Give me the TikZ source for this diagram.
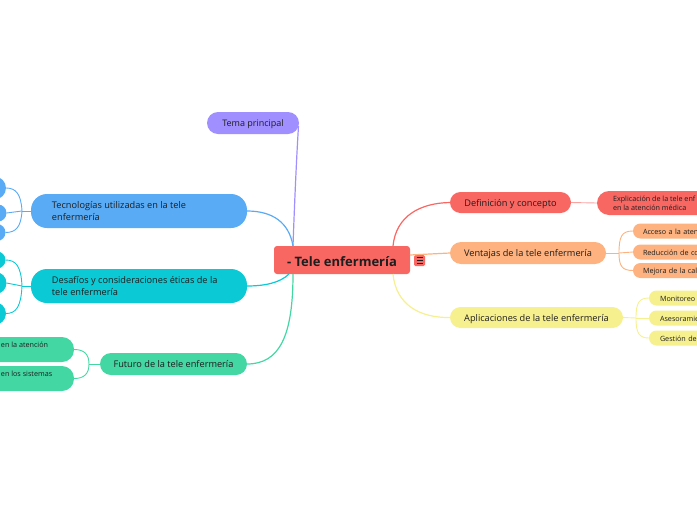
\documentclass[tikz,border=0pt]{standalone}
\usepackage{fontspec}
\setmainfont{Open Sans}
\definecolor{txtc}{HTML}{1E1E1E}
\definecolor{cred}{HTML}{F96763}
\definecolor{credl}{HTML}{F9A3A1}
\definecolor{corange}{HTML}{FDB27F}
\definecolor{cyellow}{HTML}{F7F08E}
\definecolor{cblue}{HTML}{5AABF5}
\definecolor{ccyan}{HTML}{0BCAD5}
\definecolor{cgreen}{HTML}{43D7A4}
\definecolor{cpur}{HTML}{9F8FFF}
\begin{document}
\begin{tikzpicture}[x=1pt,y=-1pt,
  every node/.style={inner sep=0pt, outer sep=0pt, text=txtc},
  bigf/.style={font=\fontsize{9.2}{12.3}\selectfont, text height=9, text depth=1.8},
  bigline/.style={font=\fontsize{9.2}{12.3}\selectfont, anchor=base west},
  smallf/.style={font=\fontsize{7.2}{9.5}\selectfont, text height=8, text depth=1.2},
  smallline/.style={font=\fontsize{7.2}{9.5}\selectfont, anchor=base west},
  mainline/.style={line width=1.2pt},
  subline/.style={line width=0.9pt},
]
\useasboundingbox (0,0) rectangle (697,520);
\clip (0,0) rectangle (697,520);

% central topic
\node[fill=cred, rounded corners=3, minimum width=136, minimum height=28,
      font=\fontsize{13}{15}\selectfont\bfseries, text height=12, text depth=0] (root) at (342,260) {- Tele enfermería};
\node[fill=cred, rounded corners=1.5, minimum size=11] (menu) at (419.5,260.5) {};
\foreach \dy in {-2.6,0,2.6}
  \draw[txtc, line width=0.9pt] ([xshift=-3pt,yshift=\dy pt]menu.center) -- ([xshift=3pt,yshift=\dy pt]menu.center);

% main branches
\node[fill=cpur, rounded corners=11, minimum width=92, minimum height=22,
      font=\fontsize{9}{11}\selectfont, text height=8, text depth=1.6] (tema) at (253,123) {Tema principal};
\node[fill=cblue, rounded corners=16, minimum width=216, minimum height=34] (tec) at (139,211) {};
\node[bigline] (tecA) at (52,208.4) {Tecnologías utilizadas en la tele};
\node[bigline] (tecB) at (52,220.7) {enfermería};
\node[fill=ccyan, rounded corners=16, minimum width=216, minimum height=34] (des) at (139,286) {};
\node[bigline] (desA) at (52,283.4) {Desafíos y consideraciones éticas de la};
\node[bigline] (desB) at (52,295.7) {tele enfermería};
\node[fill=cgreen, rounded corners=11, minimum width=147, minimum height=22, bigf] (fut) at (173.5,364) {Futuro de la tele enfermería};
\node[fill=cred, rounded corners=10.5, minimum width=121, minimum height=21, bigf] (def) at (510.5,202.5) {Definición y concepto};
\node[fill=corange, rounded corners=11, minimum width=156, minimum height=22, bigf] (ven) at (528,253) {Ventajas de la tele enfermería};
\node[fill=cyellow, rounded corners=10.5, minimum width=173, minimum height=21, bigf] (apl) at (536.5,317.5) {Aplicaciones de la tele enfermería};

% main connectors
\draw[cpur, mainline] (293,246) .. controls (295,190) and (297,150) .. (298.5,126);
\draw[cblue, mainline] (293,246) .. controls (289,222) and (272,211) .. (tec.east);
\draw[ccyan, mainline] (289,274) .. controls (280,283) and (264,286) .. (des.east);
\draw[cgreen, mainline] (293,274) .. controls (293,335) and (280,364) .. (fut.east);
\draw[cred, mainline] (393,246) .. controls (396,216) and (420,203) .. (def.west);
\draw[corange, mainline] (410,255) -- (ven.west);
\draw[cyellow, mainline] (393,274) .. controls (396,305) and (420,318) .. (apl.west);

% right children: Definición
\node[fill=cred, rounded corners=12, minimum width=160, minimum height=24, anchor=west] (exp) at (597,203) {};
\node[smallline] (expA) at (613,201.3) {Explicación de la tele enf};
\node[smallline] (expB) at (613,210.8) {en la atención médica};
\draw[credl, subline] (def.east) -- (exp.west);

% right children: Ventajas
\node[fill=corange, rounded corners=7.5, minimum width=100, minimum height=15, anchor=west, text width=90, inner xsep=10, align=left, smallf] (v1) at (633,231) {Acceso a la aten};
\node[fill=corange, rounded corners=7.5, minimum width=100, minimum height=15, anchor=west, text width=90, inner xsep=10, align=left, smallf] (v2) at (633,252) {Reducción de co};
\node[fill=corange, rounded corners=7.5, minimum width=100, minimum height=15, anchor=west, text width=90, inner xsep=10, align=left, smallf] (v3) at (633,270.5) {Mejora de la cal};
\coordinate (vj) at (619,253);
\draw[corange, subline] (ven.east) -- (vj);
\draw[corange, subline] (vj) .. controls (619,236) and (622,231) .. (v1.west);
\draw[corange, subline] (vj) -- (v2.west);
\draw[corange, subline] (vj) .. controls (619,266) and (622,270.5) .. (v3.west);

% right children: Aplicaciones
\node[fill=cyellow, rounded corners=7.5, minimum width=100, minimum height=15, anchor=west, text width=89, inner xsep=11, align=left, smallf] (a1) at (649,298) {Monitoreo};
\node[fill=cyellow, rounded corners=7.5, minimum width=100, minimum height=15, anchor=west, text width=89, inner xsep=11, align=left, smallf] (a2) at (649,318) {Asesoramie};
\node[fill=cyellow, rounded corners=7.5, minimum width=100, minimum height=15, anchor=west, text width=89, inner xsep=11, align=left, smallf] (a3) at (649,338) {Gestión de};
\coordinate (aj) at (636,318);
\draw[cyellow, subline] (apl.east) -- (aj);
\draw[cyellow, subline] (aj) .. controls (636,303) and (639,298) .. (a1.west);
\draw[cyellow, subline] (aj) -- (a2.west);
\draw[cyellow, subline] (aj) .. controls (636,333) and (639,338) .. (a3.west);

% left children: Tecnologías
\node[fill=cblue, rounded corners=11.5, minimum width=80, minimum height=23, anchor=east] (t1) at (6,188) {};
\node[fill=cblue, rounded corners=8.5, minimum width=80, minimum height=17, anchor=east] (t2) at (6.5,213) {};
\node[fill=cblue, rounded corners=8.5, minimum width=80, minimum height=17, anchor=east] (t3) at (5.5,232.5) {};
\coordinate (tj) at (22,211);
\draw[cblue, subline] (tec.west) -- (tj);
\draw[cblue, subline] (tj) .. controls (21,194) and (16,188) .. (t1.east);
\draw[cblue, subline] (tj) -- (t2.east);
\draw[cblue, subline] (tj) .. controls (21,227) and (16,232.5) .. (t3.east);

% left children: Desafíos
\node[fill=ccyan, rounded corners=8.5, minimum width=80, minimum height=17, anchor=east] (d1) at (5.5,260) {};
\node[fill=ccyan, rounded corners=11, minimum width=80, minimum height=22, anchor=east] (d2) at (6.5,283) {};
\node[fill=ccyan, rounded corners=11.5, minimum width=80, minimum height=23, anchor=east] (d3) at (6,313.5) {};
\coordinate (dj) at (22,286);
\draw[ccyan, subline] (des.west) -- (dj);
\draw[ccyan, subline] (dj) .. controls (21,266) and (16,260) .. (d1.east);
\draw[ccyan, subline] (dj) -- (d2.east);
\draw[ccyan, subline] (dj) .. controls (21,307) and (16,313.5) .. (d3.east);

% left children: Futuro
\node[fill=cgreen, rounded corners=12, minimum width=140, minimum height=25, anchor=east] (f1) at (74,349.5) {};
\node[fill=cgreen, rounded corners=12, minimum width=140, minimum height=25, anchor=east] (f2) at (74,378.5) {};
\node[smallline] (f1t) at (1,347.3) {en la atención};
\node[smallline] (f2t) at (1,376.5) {en los sistemas};
\coordinate (fj) at (89,364);
\draw[cgreen, subline] (fut.west) -- (fj);
\draw[cgreen, subline] (fj) .. controls (89,354) and (84,349.5) .. (f1.east);
\draw[cgreen, subline] (fj) .. controls (89,374) and (84,378.5) .. (f2.east);
\end{tikzpicture}
\end{document}
